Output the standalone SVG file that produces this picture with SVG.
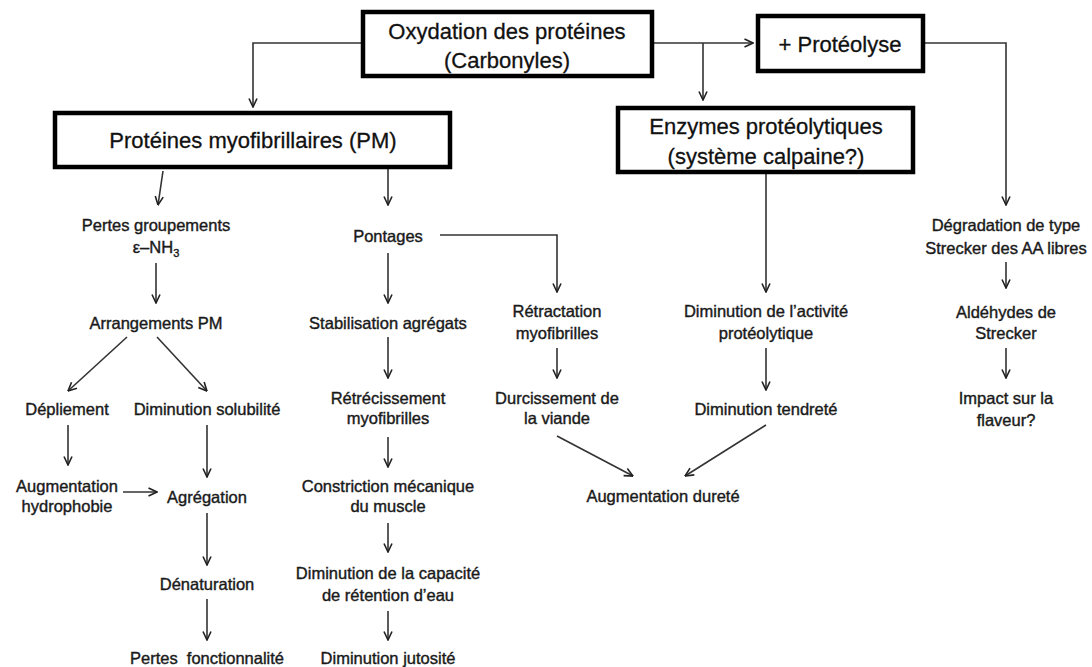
<svg xmlns="http://www.w3.org/2000/svg" width="1092" height="667" viewBox="0 0 1092 667">
<defs>
<marker id="ah" viewBox="0 0 10 10" refX="9.5" refY="5" markerWidth="10" markerHeight="10" markerUnits="userSpaceOnUse" orient="auto">
<path d="M1,1 L9.5,5 L1,9" fill="none" stroke="#222" stroke-width="1.6"/>
</marker>
</defs>
<style>
.box{fill:#fff;stroke:#000;stroke-width:4.5}
.big{font-family:"Liberation Sans",Arial,sans-serif;font-size:22px;fill:#111;stroke:#111;stroke-width:0.3;text-anchor:middle}
.t{font-family:"Liberation Sans",Arial,sans-serif;font-size:16.5px;fill:#1a1a1a;stroke:#1a1a1a;stroke-width:0.4;text-anchor:middle;white-space:pre}
.c{fill:none;stroke:#333;stroke-width:1.6;marker-end:url(#ah)}
</style>
<rect width="1092" height="667" fill="#fff"/>
<g id="connectors">
<path class="c" d="M363,43 H253 V107"/>
<path class="c" d="M652,43 H753"/>
<path class="c" d="M703,43 V100"/>
<path class="c" d="M923,43 H1006 V205"/>
<path class="c" d="M163,171 L158,205"/>
<path class="c" d="M388,162 V205"/>
<path class="c" d="M156,263 V303"/>
<path class="c" d="M127,337 L68,391"/>
<path class="c" d="M157,337 L207,391"/>
<path class="c" d="M68,425 V465"/>
<path class="c" d="M207,425 V477"/>
<path class="c" d="M123,492 H157"/>
<path class="c" d="M207,513 V565"/>
<path class="c" d="M207,599 V640"/>
<path class="c" d="M388,253 V303"/>
<path class="c" d="M440,235 H557 V292"/>
<path class="c" d="M388,337 V378"/>
<path class="c" d="M388,437 V467"/>
<path class="c" d="M388,523 V552"/>
<path class="c" d="M388,611 V640"/>
<path class="c" d="M557,348 V378"/>
<path class="c" d="M557,436 L633,476"/>
<path class="c" d="M766,172 V292"/>
<path class="c" d="M766,348 V390"/>
<path class="c" d="M766,425 L685,476"/>
<path class="c" d="M1006,262 V288"/>
<path class="c" d="M1006,348 V378"/>
</g>
<g id="n-oxydation"><rect class="box" x="363" y="12" width="289" height="64"/><text class="big" x="507" y="39">Oxydation des protéines</text><text class="big" x="507" y="68">(Carbonyles)</text></g>
<g id="n-proteolyse"><rect class="box" x="758" y="16" width="165" height="55"/><text class="big" x="840" y="52">+ Protéolyse</text></g>
<g id="n-pm"><rect class="box" x="55" y="113" width="395" height="54"/><text class="big" x="253" y="148">Protéines myofibrillaires (PM)</text></g>
<g id="n-enzymes"><rect class="box" x="618" y="108" width="295" height="64"/><text class="big" x="766" y="134">Enzymes protéolytiques</text><text class="big" x="766" y="164">(système calpaine?)</text></g>
<g id="n-pertes-groupements"><text class="t" x="156" y="231">Pertes groupements</text><text class="t" x="156" y="253">ε–NH<tspan font-size="11" dy="4">3</tspan></text></g>
<g id="n-arrangements"><text class="t" x="156" y="329">Arrangements PM</text></g>
<g id="n-depliement"><text class="t" x="67" y="415">Dépliement</text></g>
<g id="n-solubilite"><text class="t" x="207" y="415">Diminution solubilité</text></g>
<g id="n-hydrophobie"><text class="t" x="67" y="492">Augmentation</text><text class="t" x="67" y="512">hydrophobie</text></g>
<g id="n-agregation"><text class="t" x="207" y="503">Agrégation</text></g>
<g id="n-denaturation"><text class="t" x="207" y="590">Dénaturation</text></g>
<g id="n-pertes-fonct"><text class="t" x="207" y="664">Pertes  fonctionnalité</text></g>
<g id="n-pontages"><text class="t" x="388" y="242">Pontages</text></g>
<g id="n-stabilisation"><text class="t" x="388" y="329">Stabilisation agrégats</text></g>
<g id="n-retrecissement"><text class="t" x="388" y="404">Rétrécissement</text><text class="t" x="388" y="424">myofibrilles</text></g>
<g id="n-constriction"><text class="t" x="388" y="492">Constriction mécanique</text><text class="t" x="388" y="512">du muscle</text></g>
<g id="n-capacite"><text class="t" x="388" y="579">Diminution de la capacité</text><text class="t" x="388" y="601">de rétention d’eau</text></g>
<g id="n-jutosite"><text class="t" x="388" y="664">Diminution jutosité</text></g>
<g id="n-retractation"><text class="t" x="557" y="317">Rétractation</text><text class="t" x="557" y="339">myofibrilles</text></g>
<g id="n-durcissement"><text class="t" x="557" y="404">Durcissement de</text><text class="t" x="557" y="424">la viande</text></g>
<g id="n-activite"><text class="t" x="766" y="317">Diminution de l’activité</text><text class="t" x="766" y="339">protéolytique</text></g>
<g id="n-tendrete"><text class="t" x="766" y="415">Diminution tendreté</text></g>
<g id="n-durete"><text class="t" x="663" y="502">Augmentation dureté</text></g>
<g id="n-degradation"><text class="t" x="1006" y="231">Dégradation de type</text><text class="t" x="1006" y="254">Strecker des AA libres</text></g>
<g id="n-aldehydes"><text class="t" x="1006" y="318">Aldéhydes de</text><text class="t" x="1006" y="339">Strecker</text></g>
<g id="n-impact"><text class="t" x="1006" y="404">Impact sur la</text><text class="t" x="1006" y="426">flaveur?</text></g>
</svg>
